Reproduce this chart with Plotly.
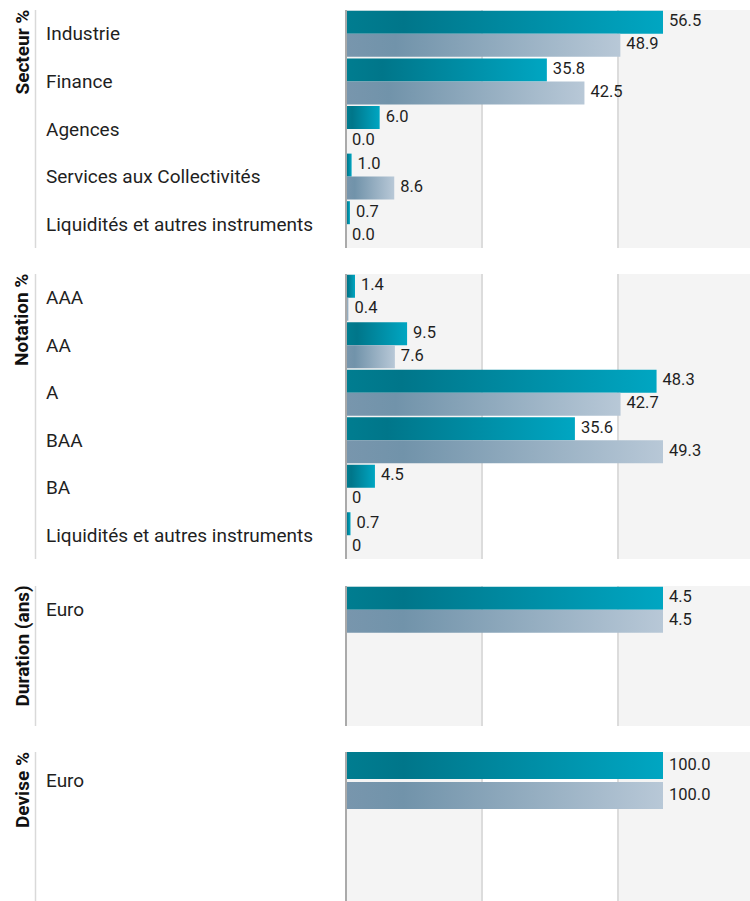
import plotly.graph_objects as go

# ---------------- data ----------------
titles = ["Secteur %", "Notation %", "Duration (ans)", "Devise %"]

secteur_cats = ["Industrie", "Finance", "Agences", "Services aux Collectivités",
                "Liquidités et autres instruments"]
secteur_fonds = [56.5, 35.8, 6.0, 1.0, 0.7]
secteur_indice = [48.9, 42.5, 0.0, 8.6, 0.0]
secteur_fonds_lbl = ["56.5", "35.8", "6.0", "1.0", "0.7"]
secteur_indice_lbl = ["48.9", "42.5", "0.0", "8.6", "0.0"]

notation_cats = ["AAA", "AA", "A", "BAA", "BA", "Liquidités et autres instruments"]
notation_fonds = [1.4, 9.5, 48.3, 35.6, 4.5, 0.7]
notation_indice = [0.4, 7.6, 42.7, 49.3, 0.0, 0.0]
notation_fonds_lbl = ["1.4", "9.5", "48.3", "35.6", "4.5", "0.7"]
notation_indice_lbl = ["0.4", "7.6", "42.7", "49.3", "0", "0"]

duration_cats = ["Euro"]
duration_fonds = [4.5]
duration_indice = [4.5]
duration_fonds_lbl = ["4.5"]
duration_indice_lbl = ["4.5"]

devise_cats = ["Euro"]
devise_fonds = [100.0]
devise_indice = [100.0]
devise_fonds_lbl = ["100.0"]
devise_indice_lbl = ["100.0"]

panels = [
    (secteur_cats, secteur_fonds, secteur_indice, secteur_fonds_lbl, secteur_indice_lbl),
    (notation_cats, notation_fonds, notation_indice, notation_fonds_lbl, notation_indice_lbl),
    (duration_cats, duration_fonds, duration_indice, duration_fonds_lbl, duration_indice_lbl),
    (devise_cats, devise_fonds, devise_indice, devise_fonds_lbl, devise_indice_lbl),
]

# ---------------- layout / style ----------------
W, H = 750, 901
X0_PX = 346                 # left edge of bar area
BAR_MAX_FRAC = 317 / 404    # largest bar ends at this fraction of the bar area
# panel geometry in px: top, bottom, slot height, bar thickness, inner gap
geom = [
    (10, 248, 47.6, 23, 0),
    (274, 559, 47.5, 23, 0),
    (586, 726, 47.5, 23, 0),
    (752, 901, 57.0, 27, 3),
]
FONT = "Roboto"
fund_scale = [[0, "#007d90"], [0.18, "#00768a"], [1, "#00a6c2"]]
bench_scale = [[0, "#7896ad"], [0.18, "#7193aa"], [1, "#b8c8d7"]]

fig = go.Figure()
layout = dict(
    width=W, height=H, margin=dict(l=0, r=0, t=0, b=0),
    paper_bgcolor="white", plot_bgcolor="white", showlegend=False,
    font=dict(family=FONT, color="#1f1f1f"),
)
shapes, annotations = [], []

for k, ((cats, fonds, indice, flbl, ilbl), (top, bot, slot, bar, gap), title) in enumerate(
        zip(panels, geom, titles), start=1):
    xa, ya = ("x" if k == 1 else f"x{k}"), ("y" if k == 1 else f"y{k}")
    xname, yname = ("xaxis" if k == 1 else f"xaxis{k}"), ("yaxis" if k == 1 else f"yaxis{k}")
    vmax = max(fonds + indice)
    layout[xname] = dict(domain=[X0_PX / W, 1], range=[0, vmax / BAR_MAX_FRAC],
                         showgrid=False, zeroline=False, showticklabels=False,
                         showline=False, fixedrange=True, anchor=ya)
    y_bottom = -0.5 + (bot - top) / slot
    layout[yname] = dict(domain=[1 - bot / H, 1 - top / H], range=[y_bottom, -0.5],
                         showgrid=False, zeroline=False, showticklabels=False,
                         showline=False, fixedrange=True, anchor=xa)

    w = bar / slot
    g = gap / slot
    spans = [(-(w + g / 2), -g / 2), (g / 2, g / 2 + w)]
    for series, lbls, scale, (a, b) in ((fonds, flbl, fund_scale, spans[0]),
                                         (indice, ilbl, bench_scale, spans[1])):
        for i, v in enumerate(series):
            if v > 0:
                fig.add_trace(go.Scatter(
                    x=[0, v, v, 0, 0], y=[i + a, i + a, i + b, i + b, i + a],
                    xaxis=xa, yaxis=ya, mode="none", fill="toself",
                    fillgradient=dict(type="horizontal", colorscale=scale, start=0, stop=v),
                    hoverinfo="skip"))
        fig.add_trace(go.Scatter(
            x=series, y=[i + (a + b) / 2 for i in range(len(series))],
            xaxis=xa, yaxis=ya, mode="markers+text", text=lbls,
            textposition="middle right", cliponaxis=False,
            marker=dict(size=8, color="rgba(0,0,0,0)"),
            textfont=dict(family=FONT, size=16.5, color="#1f1f1f"), hoverinfo="skip"))

    # background stripes and gridlines
    for x0, x1 in ((0, 136 / 404), (272 / 404, 1)):
        shapes.append(dict(type="rect", xref=f"{xa} domain", yref=f"{ya} domain",
                           x0=x0, x1=x1, y0=0, y1=1, fillcolor="#f4f4f4",
                           line=dict(width=0), layer="below"))
    for gx in (136 / 404, 272 / 404):
        shapes.append(dict(type="line", xref=f"{xa} domain", yref=f"{ya} domain",
                           x0=gx, x1=gx, y0=0, y1=1, line=dict(color="#dcdcdc", width=2),
                           layer="below"))
    shapes.append(dict(type="line", xref=f"{xa} domain", yref=f"{ya} domain",
                       x0=0, x1=0, y0=0, y1=1, line=dict(color="#aaaaaa", width=2),
                       layer="above"))
    shapes.append(dict(type="line", xref="paper", yref=f"{ya} domain",
                       x0=35.5 / W, x1=35.5 / W, y0=0, y1=1,
                       line=dict(color="#d9d9d9", width=1.5), layer="above"))

    for i, c in enumerate(cats):
        annotations.append(dict(text=c, xref="paper", yref=ya, x=44 / W, y=i,
                                xanchor="left", yanchor="middle", showarrow=False,
                                font=dict(family=FONT, size=19, color="#1f1f1f")))
    annotations.append(dict(text=f"<b>{title}</b>", xref="paper", yref="paper",
                            x=22 / W, y=1 - (top - 2) / H, xanchor="center", yanchor="top",
                            textangle=-90, showarrow=False,
                            font=dict(family=FONT, size=19, color="#111111")))

layout["shapes"] = shapes
layout["annotations"] = annotations
fig.update_layout(**layout)
fig.write_html("out.html", config={"displayModeBar": False},
               post_script="document.body.style.margin='0';")
